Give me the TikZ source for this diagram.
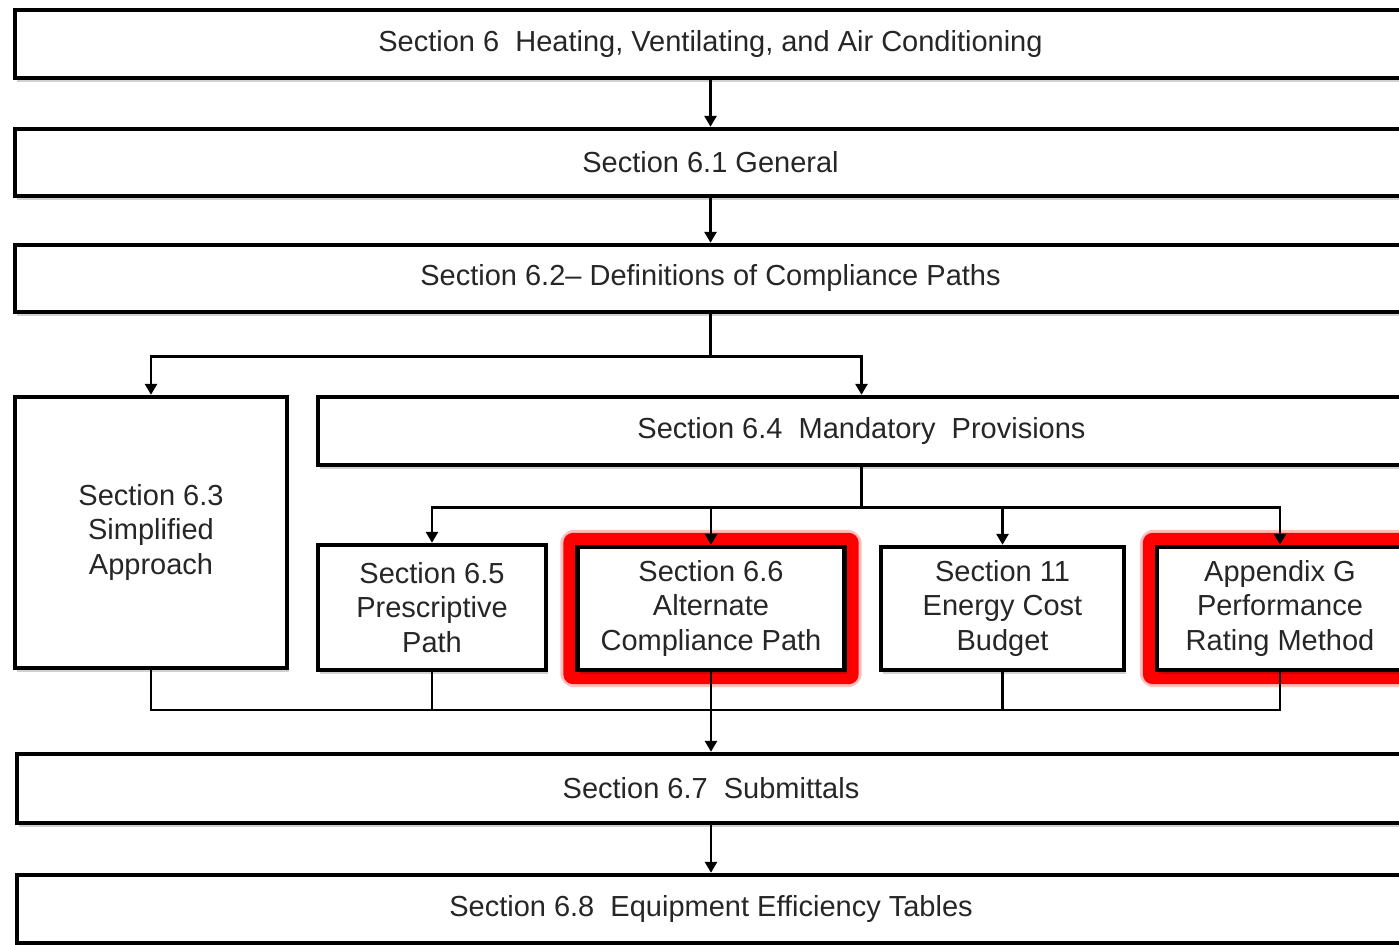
\documentclass[tikz,border=0pt]{standalone}
\usepackage{fontspec}
\setmainfont{Liberation Sans}
\usetikzlibrary{arrows.meta,shadows,backgrounds}
\begin{document}
\begin{tikzpicture}[x=0.5pt,y=-0.5pt,
  box/.style={draw=black, line width=2.2pt, fill=white, inner sep=0pt, align=center,
    text=black!85, font=\fontsize{14.5pt}{17.25pt}\selectfont,
    drop shadow={shadow xshift=1.2pt, shadow yshift=-1.8pt, opacity=0.18, fill=black}},
  wh/.style 2 args={minimum width=#1*0.5pt, minimum height=#2*0.5pt},
  conn/.style={line width=1.4pt, draw=black},
  thinconn/.style={line width=1.1pt, draw=black},
  arr/.style={conn, -{Triangle[width=6pt,length=5.5pt]}}]
\clip (0,0) rectangle (1399,945);
\useasboundingbox (0,0) rectangle (1399,945);

\node[box, wh={1391}{68}] (s6)  at (710.5,44)    {Section 6~ Heating, Ventilating, and Air Conditioning};
\node[box, wh={1391}{67}] (s61) at (710.5,162.5) {Section 6.1 General};
\node[box, wh={1391}{67}] (s62) at (710.5,278.5) {Section 6.2-- Definitions of Compliance Paths};
\node[box, wh={272}{271}] (s63) at (151,532.5)   {Section 6.3\\Simplified\\Approach};
\node[box, wh={1087}{68}] (s64) at (861.5,431)   {Section 6.4~ Mandatory~ Provisions};
\node[box, wh={228}{125}] (s65) at (432,607.5)   {Section 6.5\\Prescriptive\\Path};
\node[box, wh={267}{123}] (s66) at (711,608.5)   {Section 6.6\\Alternate\\Compliance Path};
\node[box, wh={243}{123}] (s11) at (1002.5,608.5) {Section 11\\Energy Cost\\Budget};
\node[box, wh={246}{123}] (sG)  at (1280,608.5)  {Appendix G\\Performance\\Rating Method};
\node[box, wh={1388}{69}] (s67) at (711,788.5)   {Section 6.7~ Submittals};
\node[box, wh={1388}{68}] (s68) at (711,909)     {Section 6.8~ Equipment Efficiency Tables};

\begin{pgfonlayer}{background}
  \fill[white] (0,0) rectangle (1399,945);
  \foreach \n in {s66,sG}{
    \fill[red, opacity=0.25, rounded corners=7pt]
      ([shift={(-15,-15)}]\n.north west) rectangle ([shift={(15,15)}]\n.south east);
    \fill[red, rounded corners=5pt]
      ([shift={(-12,-12)}]\n.north west) rectangle ([shift={(12,12)}]\n.south east);
  }
\end{pgfonlayer}

\draw[arr] (s6.south) -- (s61.north);
\draw[arr] (s61.south) -- (s62.north);
\draw[conn] (s62.south) -- ++(0,42) coordinate (j1);
\draw[arr] (j1) -| (s63.north);
\draw[arr] (j1) -| (s64.north);
\draw[conn] (s64.south) -- ++(0,40) coordinate (j2);
\draw[arr] (j2) -| (s65.north);
\draw[arr] (j2) -| (s66.north);
\draw[arr] (j2) -| (s11.north);
\draw[arr] (j2) -| (sG.north);
\coordinate (j3) at (711,710);
\draw[thinconn] (s63.south) |- (j3);
\draw[thinconn] (s65.south) |- (j3);
\draw[thinconn] (s11.south) |- (j3);
\draw[thinconn] (sG.south) |- (j3);
\draw[arr] (s66.south) -- (s67.north);
\draw[arr] (s67.south) -- (s68.north);
\end{tikzpicture}
\end{document}
